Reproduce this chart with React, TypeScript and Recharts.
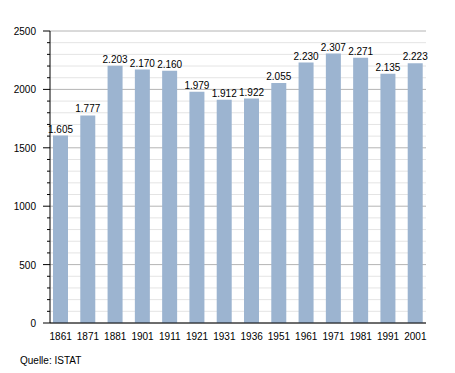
import { Bar, BarChart, CartesianGrid, LabelList, XAxis, YAxis } from 'recharts';

const years = ['1861', '1871', '1881', '1901', '1911', '1921', '1931', '1936', '1951', '1961', '1971', '1981', '1991', '2001'];
const population = [1605, 1777, 2203, 2170, 2160, 1979, 1912, 1922, 2055, 2230, 2307, 2271, 2135, 2223];
const yTicks = Array.from({ length: 26 }, (_, i) => i * 100);

const data = years.map((year, i) => ({ year, value: population[i] }));

const font = '"Liberation Sans", Arial, sans-serif';

function formatThousands(v: number) {
  const n = Number(v);
  if (n < 1000) return `${n}`;
  return `${Math.floor(n / 1000)}.${String(n % 1000).padStart(3, '0')}`;
}

function YTick(props: any) {
  const { x, y, payload } = props;
  const major = payload.value % 500 === 0;
  return (
    <g>
      <line x1={x - (major ? 7 : 3)} x2={x} y1={y} y2={y} stroke="#000" strokeWidth={1} />
      {major ? (
        <text x={x - 14} y={y} dy={4} textAnchor="end" fontSize={10} fill="#000" fontFamily={font}>
          {payload.value}
        </text>
      ) : null}
    </g>
  );
}

function GridLine(props: any) {
  const { x1, x2, y1, y2, index } = props;
  const major = index % 5 === 0;
  return (
    <line
      key={`g-${index}`}
      x1={x1}
      x2={x2}
      y1={y1}
      y2={y2}
      stroke={major ? '#b4b4b4' : '#e4e4e4'}
      strokeWidth={1}
    />
  );
}

export default function App() {
  return (
    <div style={{ position: 'absolute', left: 0, top: 0, width: 455, height: 373, background: '#fff' }}>
      <BarChart
        width={455}
        height={373}
        data={data}
        margin={{ top: 31, right: 29, left: 0, bottom: 30 }}
        barCategoryGap={6}
      >
        <CartesianGrid vertical={false} horizontal={GridLine} />
        <XAxis
          dataKey="year"
          height={20}
          padding={{ left: -3, right: -3 }}
          tickLine={false}
          axisLine={{ stroke: '#000' }}
          tick={{ fontSize: 10, fill: '#000', fontFamily: font }}
          tickMargin={4}
          interval={0}
        />
        <YAxis
          width={50}
          domain={[0, 2500]}
          ticks={yTicks}
          interval={0}
          tickSize={0}
          tickMargin={0}
          tickLine={false}
          axisLine={{ stroke: '#000' }}
          tick={<YTick />}
        />
        <Bar dataKey="value" fill="#9cb4d0" isAnimationActive={false}>
          <LabelList
            dataKey="value"
            position="top"
            offset={3}
            formatter={formatThousands}
            style={{ fontSize: 10, fill: '#000', fontFamily: font }}
          />
        </Bar>
      </BarChart>
      <div
        style={{
          position: 'absolute',
          left: 20,
          top: 355,
          fontSize: 10,
          fontFamily: font,
          color: '#000',
        }}
      >
        Quelle: ISTAT
      </div>
    </div>
  );
}
